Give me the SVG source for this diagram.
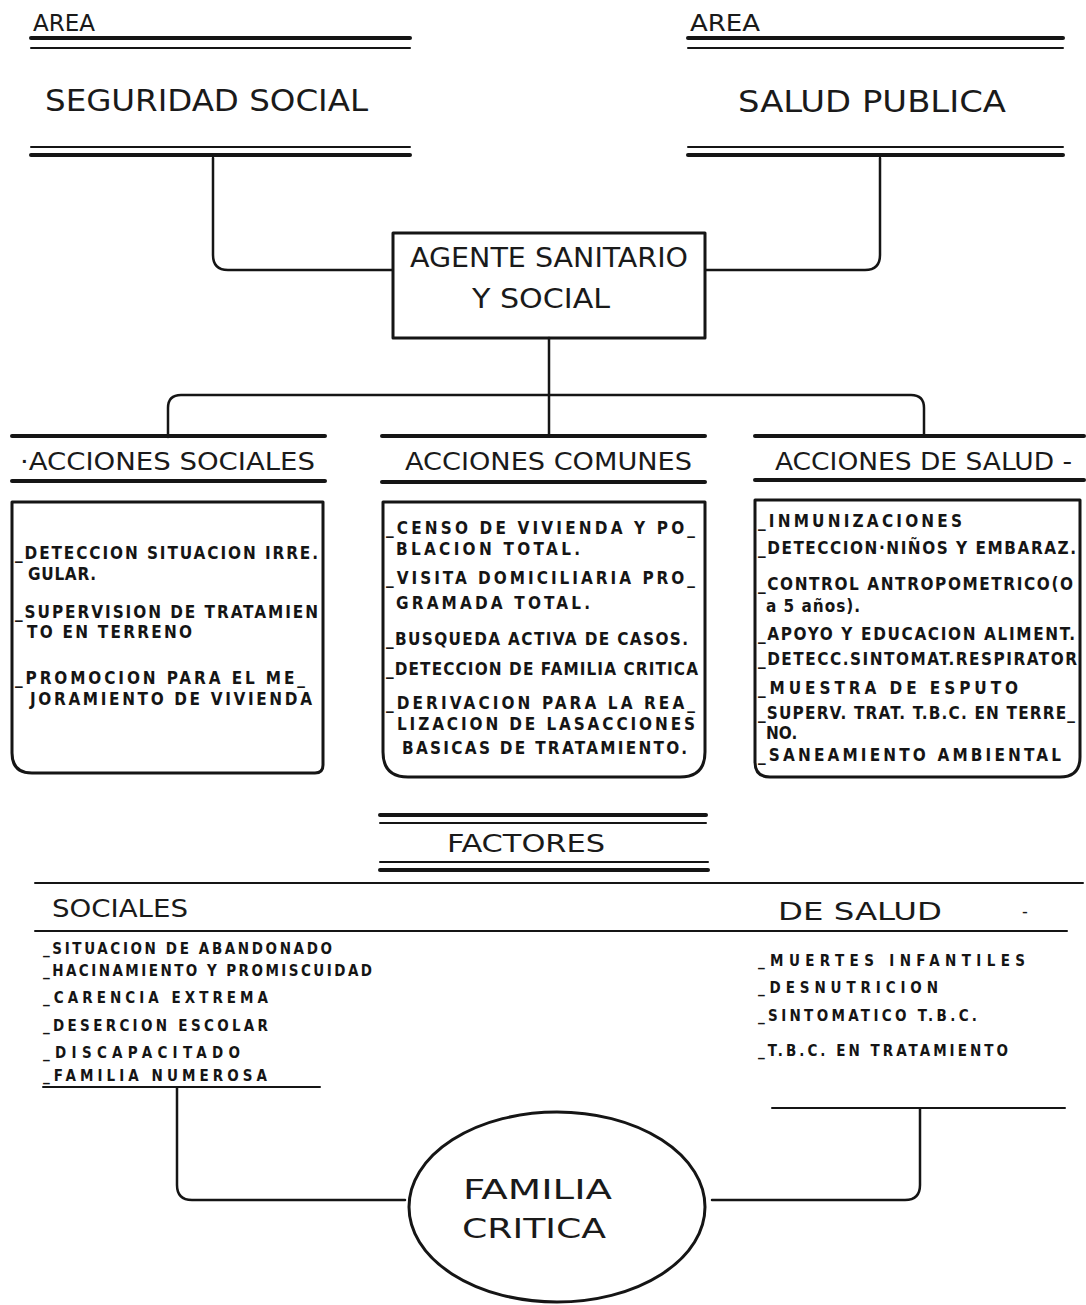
<svg xmlns="http://www.w3.org/2000/svg" width="1086" height="1305" viewBox="0 0 1086 1305">
<style>
.bg{fill:#ffffff}
.ln{stroke:#151515;stroke-width:2.5;fill:none;stroke-linecap:round;stroke-linejoin:round}
.thk{stroke:#151515;stroke-width:4;fill:none;stroke-linecap:round}
.thn{stroke:#151515;stroke-width:2;fill:none;stroke-linecap:round}
.box{stroke:#151515;stroke-width:3;fill:none;stroke-linejoin:round}
.hd{font-family:"DejaVu Sans Condensed","DejaVu Sans","Liberation Sans",sans-serif;fill:#1a1a1a;font-weight:normal}
.big{font-size:30px}
.mid{font-size:25px}
.it{font-family:"DejaVu Sans Condensed","DejaVu Sans","Liberation Sans",sans-serif;fill:#151515;font-weight:bold;font-size:17px}
.fi{font-family:"DejaVu Sans Condensed","DejaVu Sans","Liberation Sans",sans-serif;fill:#151515;font-weight:bold;font-size:15px}
</style>
<rect class="bg" x="0" y="0" width="1086" height="1305"/>

<g id="area-seguridad">
<text class="hd" x="33" y="31" font-size="23" textLength="62" lengthAdjust="spacingAndGlyphs">AREA</text>
<line class="thk" x1="31" y1="38" x2="410" y2="38"/>
<line class="thn" x1="31" y1="48" x2="410" y2="48"/>
<text class="hd big" x="45" y="111" textLength="323" lengthAdjust="spacingAndGlyphs">SEGURIDAD  SOCIAL</text>
<line class="thn" x1="31" y1="147" x2="410" y2="147"/>
<line class="thk" x1="31" y1="155" x2="410" y2="155"/>
</g>

<g id="area-salud">
<text class="hd" x="690" y="31" font-size="23" textLength="70" lengthAdjust="spacingAndGlyphs">AREA</text>
<line class="thk" x1="688" y1="38" x2="1063" y2="38"/>
<line class="thn" x1="688" y1="48" x2="1063" y2="48"/>
<text class="hd big" x="738" y="112" textLength="268" lengthAdjust="spacingAndGlyphs">SALUD PUBLICA</text>
<line class="thn" x1="688" y1="147" x2="1063" y2="147"/>
<line class="thk" x1="688" y1="155" x2="1063" y2="155"/>
</g>

<g id="agente">
<rect class="box" x="393" y="233" width="312" height="105"/>
<text class="hd" font-size="26" x="410" y="267" textLength="278" lengthAdjust="spacingAndGlyphs">AGENTE SANITARIO</text>
<text class="hd" font-size="26" x="472" y="308" textLength="138" lengthAdjust="spacingAndGlyphs">Y SOCIAL</text>
</g>

<g id="connectors">
<path class="ln" d="M213,158 V255 Q213,270 228,270 H392"/>
<path class="ln" d="M880,158 V255 Q880,270 865,270 H706"/>
<path class="ln" d="M549,338 V436"/>
<path class="ln" d="M168,437 V408 Q168,395 181,395 H911 Q924,395 924,408 V436"/>
<path class="ln" d="M177,1088 V1185 Q177,1200 192,1200 H405"/>
<path class="ln" d="M920,1109 V1185 Q920,1200 905,1200 H712"/>
</g>

<g id="acciones-sociales">
<line class="thk" x1="12" y1="436" x2="325" y2="436"/>
<line class="thk" x1="12" y1="481" x2="325" y2="481"/>
<text class="hd mid" x="20" y="470" textLength="295" lengthAdjust="spacingAndGlyphs">·ACCIONES  SOCIALES</text>
<path class="box" d="M12,502 H323 V765 Q323,773 315,773 H32 Q12,773 12,753 Z"/>
<text class="it" x="15" y="559" textLength="303" lengthAdjust="spacing">_DETECCION SITUACION IRRE.</text>
<text class="it" x="28" y="580" textLength="68" lengthAdjust="spacing">GULAR.</text>
<text class="it" x="15" y="618" textLength="303" lengthAdjust="spacing">_SUPERVISION DE TRATAMIEN</text>
<text class="it" x="27" y="638" textLength="165" lengthAdjust="spacing">TO EN TERRENO</text>
<text class="it" x="15" y="684" textLength="290" lengthAdjust="spacing">_PROMOCION PARA EL ME_</text>
<text class="it" x="30" y="705" textLength="282" lengthAdjust="spacing">JORAMIENTO DE VIVIENDA</text>
</g>

<g id="acciones-comunes">
<line class="thk" x1="382" y1="436" x2="705" y2="436"/>
<line class="thk" x1="382" y1="482" x2="705" y2="482"/>
<text class="hd mid" x="405" y="470" textLength="287" lengthAdjust="spacingAndGlyphs">ACCIONES COMUNES</text>
<path class="box" d="M383,502 H705 V752 Q705,777 680,777 H408 Q383,777 383,752 Z"/>
<text class="it" x="386" y="534" textLength="309" lengthAdjust="spacing">_CENSO DE VIVIENDA Y PO_</text>
<text class="it" x="396" y="555" textLength="184" lengthAdjust="spacing">BLACION TOTAL.</text>
<text class="it" x="386" y="584" textLength="309" lengthAdjust="spacing">_VISITA DOMICILIARIA PRO_</text>
<text class="it" x="396" y="609" textLength="194" lengthAdjust="spacing">GRAMADA TOTAL.</text>
<text class="it" x="386" y="645" textLength="302" lengthAdjust="spacing">_BUSQUEDA ACTIVA DE CASOS.</text>
<text class="it" x="386" y="675" textLength="312" lengthAdjust="spacing">_DETECCION DE FAMILIA CRITICA</text>
<text class="it" x="386" y="709" textLength="309" lengthAdjust="spacing">_DERIVACION PARA LA REA_</text>
<text class="it" x="397" y="730" textLength="298" lengthAdjust="spacing">LIZACION DE LASACCIONES</text>
<text class="it" x="402" y="754" textLength="285" lengthAdjust="spacing">BASICAS DE TRATAMIENTO.</text>
</g>

<g id="acciones-salud">
<line class="thk" x1="755" y1="436" x2="1084" y2="436"/>
<line class="thk" x1="755" y1="480" x2="1084" y2="480"/>
<text class="hd mid" x="775" y="470" textLength="297" lengthAdjust="spacingAndGlyphs">ACCIONES DE SALUD -</text>
<path class="box" d="M755,500 H1080 V757 Q1080,777 1060,777 H770 Q755,777 755,762 Z"/>
<text class="it" x="758" y="527" textLength="204" lengthAdjust="spacing">_INMUNIZACIONES</text>
<text class="it" x="758" y="554" textLength="318" lengthAdjust="spacing">_DETECCION·NIÑOS Y EMBARAZ.</text>
<text class="it" x="758" y="590" textLength="315" lengthAdjust="spacing">_CONTROL ANTROPOMETRICO(O</text>
<text class="it" x="766" y="612" font-size="15" textLength="94" lengthAdjust="spacing">a 5 años).</text>
<text class="it" x="758" y="640" textLength="317" lengthAdjust="spacing">_APOYO Y EDUCACION ALIMENT.</text>
<text class="it" x="758" y="665" textLength="319" lengthAdjust="spacing">_DETECC.SINTOMAT.RESPIRATOR</text>
<text class="it" x="758" y="694" textLength="260" lengthAdjust="spacing">_MUESTRA DE  ESPUTO</text>
<text class="it" x="758" y="719" textLength="317" lengthAdjust="spacing">_SUPERV. TRAT. T.B.C. EN TERRE_</text>
<text class="it" x="766" y="739">NO.</text>
<text class="it" x="758" y="761" textLength="303" lengthAdjust="spacing">_SANEAMIENTO AMBIENTAL</text>
</g>

<g id="factores">
<line class="thk" x1="380" y1="815" x2="706" y2="815"/>
<line class="thn" x1="380" y1="823" x2="706" y2="823"/>
<text class="hd mid" x="447" y="852" textLength="158" lengthAdjust="spacingAndGlyphs">FACTORES</text>
<line class="thn" x1="380" y1="862" x2="708" y2="862"/>
<line class="thk" x1="380" y1="870" x2="708" y2="870"/>
<line class="thn" x1="35" y1="883" x2="1083" y2="883"/>
<line class="thn" x1="35" y1="931" x2="1067" y2="931"/>
</g>

<g id="factores-sociales">
<text class="hd mid" x="52" y="917" textLength="136" lengthAdjust="spacingAndGlyphs">SOCIALES</text>
<text class="fi" x="43" y="954" textLength="289" lengthAdjust="spacing">_SITUACION DE ABANDONADO</text>
<text class="fi" x="43" y="976" textLength="329" lengthAdjust="spacing">_HACINAMIENTO Y PROMISCUIDAD</text>
<text class="fi" x="43" y="1003" textLength="225" lengthAdjust="spacing">_CARENCIA  EXTREMA</text>
<text class="fi" x="43" y="1031" textLength="225" lengthAdjust="spacing">_DESERCION ESCOLAR</text>
<text class="fi" x="43" y="1058" textLength="197" lengthAdjust="spacing">_DISCAPACITADO</text>
<text class="fi" x="43" y="1081" textLength="224" lengthAdjust="spacing">_FAMILIA NUMEROSA</text>
<line class="thn" x1="43" y1="1087" x2="320" y2="1087"/>
</g>

<g id="factores-salud">
<text class="hd mid" x="778" y="920" textLength="164" lengthAdjust="spacingAndGlyphs">DE SALUD</text>
<text class="hd" x="1022" y="917" font-size="18">-</text>
<text class="fi" x="758" y="966" textLength="267" lengthAdjust="spacing">_MUERTES INFANTILES</text>
<text class="fi" x="758" y="993" textLength="180" lengthAdjust="spacing">_DESNUTRICION</text>
<text class="fi" x="758" y="1021" textLength="219" lengthAdjust="spacing">_SINTOMATICO T.B.C.</text>
<text class="fi" x="758" y="1056" textLength="250" lengthAdjust="spacing">_T.B.C. EN TRATAMIENTO</text>
<line class="thn" x1="772" y1="1108" x2="1065" y2="1108"/>
</g>

<g id="familia-critica">
<ellipse class="box" cx="557" cy="1207" rx="148" ry="95"/>
<text class="hd" font-size="26" x="463" y="1199" textLength="149" lengthAdjust="spacingAndGlyphs">FAMILIA</text>
<text class="hd" font-size="26" x="462" y="1238" textLength="144" lengthAdjust="spacingAndGlyphs">CRITICA</text>
</g>
</svg>
